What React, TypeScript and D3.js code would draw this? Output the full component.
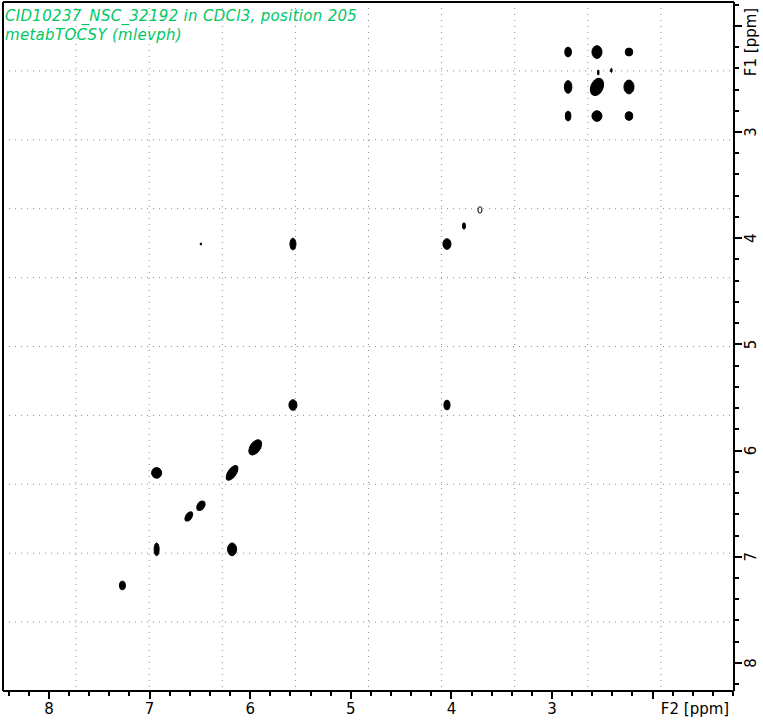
import React from 'react';
import * as d3 from 'd3';

// peak list: F2 ppm, F1 ppm, width (ppm, F2), height (ppm, F1), tilt (deg), hollow
const peakF2 = [2.84, 2.553, 2.235, 2.84, 2.553, 2.235, 2.84, 2.553, 2.235, 2.54, 2.41,
  5.575, 4.044, 6.49, 3.875, 3.716, 5.575, 4.044, 5.95, 6.18, 6.93, 6.49, 6.61, 6.93, 6.18, 7.27];
const peakF1 = [2.247, 2.247, 2.247, 2.576, 2.576, 2.576, 2.85, 2.85, 2.85, 2.44, 2.42,
  4.055, 4.055, 4.055, 3.885, 3.734, 5.571, 5.571, 5.97, 6.21, 6.21, 6.52, 6.62, 6.93, 6.93, 7.27];
const peakW = [0.065, 0.1, 0.075, 0.075, 0.12, 0.1, 0.055, 0.1, 0.075, 0.015, 0.015,
  0.06, 0.08, 0.015, 0.03, 0.04, 0.08, 0.06, 0.1, 0.08, 0.1, 0.07, 0.06, 0.05, 0.09, 0.06];
const peakH = [0.09, 0.12, 0.075, 0.12, 0.17, 0.13, 0.09, 0.1, 0.08, 0.05, 0.04,
  0.11, 0.1, 0.02, 0.06, 0.06, 0.1, 0.09, 0.16, 0.16, 0.1, 0.1, 0.1, 0.12, 0.12, 0.08];
const peakTilt = [0, 0, 0, 0, 25, 0, 0, 0, 0, 0, 0,
  0, 0, 0, 0, 0, 0, 0, 35, 35, 0, 35, 35, 0, 0, 0];
const peakHollow = [15];

const titleLines = ['CID10237_NSC_32192 in CDCl3, position 205', 'metabTOCSY (mlevph)'];
const f2Labels = [8, 7, 6, 5, 4, 3];
const f1Labels = [3, 4, 5, 6, 7, 8];

const W = 763, H = 720;
const X0 = 3, X1 = 734, Y0 = 2, Y1 = 691;
const font = 'DejaVu Sans, Verdana, sans-serif';

export default function App() {
  const x = d3.scaleLinear().domain([8.457, 1.191]).range([X0, X1]);
  const y = d3.scaleLinear().domain([1.776, 8.264]).range([Y0, Y1]);

  const f2Ticks = d3.range(12, 85, 2).map(v => v / 10).filter(v => x(v) >= X0 && x(v) <= X1);
  const f1Ticks = d3.range(18, 83, 2).map(v => v / 10).filter(v => y(v) >= Y0 && y(v) <= Y1);
  const isMajor = (v: number) => Math.abs(v - Math.round(v)) < 1e-6;

  const gx = d3.range(1, 10).map(i => X0 + (X1 - X0) * i / 10);
  const gy = d3.range(1, 10).map(i => Y0 + (Y1 - Y0) * i / 10);

  return (
    <svg width={W} height={H} style={{ position: 'absolute', left: 0, top: 0, background: '#fff' }}>
      <rect x={0} y={0} width={W} height={H} fill="#fff" />
      {/* grid */}
      {gx.map((gxv, i) => (
        <line key={'gx' + i} x1={gxv} x2={gxv} y1={Y0} y2={Y1} stroke="#8a8a8a" strokeDasharray="1,5" />
      ))}
      {gy.map((gyv, i) => (
        <line key={'gy' + i} x1={X0} x2={X1} y1={gyv} y2={gyv} stroke="#8a8a8a" strokeDasharray="1,5" />
      ))}

      {/* peaks */}
      {peakF2.map((f2, i) => {
        const cx = x(f2), cy = y(peakF1[i]);
        const rx = Math.abs(x(0) - x(peakW[i])) / 2;
        const ry = Math.abs(y(peakH[i]) - y(0)) / 2;
        const hollow = peakHollow.includes(i);
        return (
          <ellipse key={'p' + i} cx={cx} cy={cy} rx={rx} ry={ry}
            transform={`rotate(${peakTilt[i]},${cx},${cy})`}
            fill={hollow ? 'none' : '#000'} stroke="#000" strokeWidth={1} />
        );
      })}

      {/* frame */}
      <g shapeRendering="crispEdges">
        <line x1={X0} x2={X0} y1={Y0} y2={Y1} stroke="#000" strokeWidth={2} />
        <line x1={X0} x2={X1} y1={Y0} y2={Y0} stroke="#000" strokeWidth={2} />
        <line x1={X0} x2={X1} y1={Y1} y2={Y1} stroke="#000" strokeWidth={2} />
        <line x1={X1} x2={X1} y1={Y0} y2={Y1} stroke="#000" strokeWidth={2} />

        {/* bottom axis */}
        {f2Ticks.map(v => (
          <line key={'tx' + v} x1={x(v)} x2={x(v)} y1={Y1} y2={Y1 + (isMajor(v) ? 8 : 5)} stroke="#000" strokeWidth={2} />
        ))}
        {/* right axis */}
        {f1Ticks.map(v => (
          <line key={'ty' + v} x1={X1} x2={X1 + (isMajor(v) ? 8 : 5)} y1={y(v)} y2={y(v)} stroke="#000" strokeWidth={2} />
        ))}
      </g>

      {f2Labels.map(v => (
        <text key={'lx' + v} x={x(v)} y={714} textAnchor="middle" fontFamily={font} fontSize={15}>{v}</text>
      ))}
      <text x={695} y={714} textAnchor="middle" fontFamily={font} fontSize={15}>F2 [ppm]</text>

      {f1Labels.map(v => (
        <text key={'ly' + v} transform={`translate(756,${y(v)}) rotate(-90)`} textAnchor="middle" fontFamily={font} fontSize={15}>{v}</text>
      ))}
      <text transform="translate(756,42) rotate(-90)" textAnchor="middle" fontFamily={font} fontSize={15}>F1 [ppm]</text>

      {/* title */}
      {titleLines.map((t, i) => (
        <text key={'t' + i} x={5} y={21 + i * 19} fontFamily={font} fontStyle="italic" fontSize={15}
          letterSpacing={0.3} fill="#00c864">{t}</text>
      ))}
    </svg>
  );
}
